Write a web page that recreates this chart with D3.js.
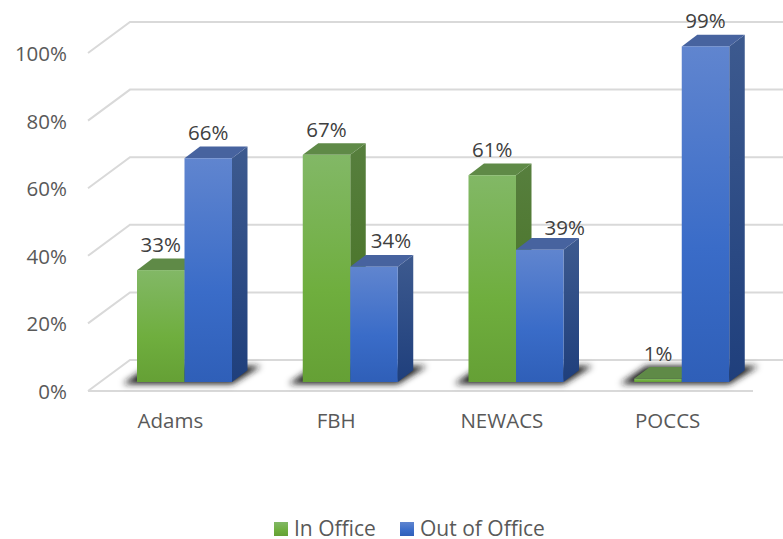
<!DOCTYPE html>
<html>
<head>
<meta charset="utf-8">
<script src="https://cdn.jsdelivr.net/npm/d3@7"></script>
<style>
  html, body { margin: 0; background: #fff; }
  svg { display: block; }
  text { font-family: "Open Sans", sans-serif; }
</style>
</head>
<body>
<svg width="783" height="539"></svg>
<script>
const categories = ['Adams', 'FBH', 'NEWACS', 'POCCS'];
const seriesNames = ['In Office', 'Out of Office'];
const inOffice = [33, 67, 61, 1];
const outOfOffice = [66, 34, 39, 99];
const tickValues = [0, 20, 40, 60, 80, 100];

const colors = {
  'In Office': { stops: ['#82b866', '#6fae3e', '#65a035'], side: ['#577f3e', '#44701f'], top: '#5f8a47' },
  'Out of Office': { stops: ['#6085cf', '#3a6cc8', '#2f5fb8'], side: ['#3d5a8f', '#1f3f7c'], top: '#47639f' }
};

// blue labels that had to move clear of the green bar beside them
const labelNudge = { FBH: { dx: 17, dy: 19 }, NEWACS: { dx: 25, dy: 15 } };

const svg = d3.select('svg');
const defs = svg.append('defs');

// pseudo 3d: floor runs from the front edge to the back wall, bars sit part way in
const floorDepth = { x: 42, y: -31 };
const barDepth = { x: 15.5, y: -11.7 };

const x = d3.scaleBand().domain(categories).range([88, 751]);
const bars = d3.scaleBand().domain(seriesNames).range([0, 95]);
const y = d3.scaleLinear().domain([0, 100]).range([382, 43]); // bar front plane
const yFront = d3.scaleLinear().domain([0, 100]).range([391, 53]); // front edge of the left wall
const yBack = d3.scaleLinear().domain([0, 100]).range([360, 22]);

const barX = (cat, name) => x(cat) + 49 + bars(name);
const poly = pts => pts.map(p => p.join(',')).join(' ');

seriesNames.forEach((name, i) => {
  const c = colors[name];
  const front = defs.append('linearGradient').attr('id', `front${i}`).attr('x1', 0).attr('x2', 0).attr('y1', 0).attr('y2', 1);
  [0, 0.6, 1].forEach((o, j) => front.append('stop').attr('offset', o).attr('stop-color', c.stops[j]));
  const side = defs.append('linearGradient').attr('id', `side${i}`).attr('x1', 0).attr('x2', 0).attr('y1', 0).attr('y2', 1);
  [0, 1].forEach((o, j) => side.append('stop').attr('offset', o).attr('stop-color', c.side[j]));
});

defs.append('filter').attr('id', 'blur').attr('x', '-20%').attr('width', '140%').attr('y', '-50%').attr('height', '200%')
  .append('feGaussianBlur').attr('stdDeviation', 3.4);

// walls and floor
const grid = svg.append('g').attr('fill', 'none').attr('stroke', '#d9d9d9').attr('stroke-width', 2);
tickValues.forEach((t) => {
  grid.append('polyline')
    .attr('points', poly([[88, yFront(t)], [88 + floorDepth.x, yBack(t)], [783, yBack(t)]]));
});
grid.append('line').attr('x1', 88).attr('x2', 753).attr('y1', yFront(0)).attr('y2', yFront(0));

// shadows on the floor
svg.append('g').selectAll('polygon').data(categories).join('polygon')
  .attr('points', (d) => {
    const l = x(d) + 49;
    return poly([[l - 14, 384], [l + 95, 384], [l + 124, 366], [l + 12, 366]]);
  })
  .attr('fill', '#1c1c1c')
  .attr('filter', 'url(#blur)');

// bars, left series first so the right one covers its side face
categories.forEach((cat, ci) => {
  [inOffice, outOfOffice].forEach((values, si) => {
    const name = seriesNames[si];
    const v = values[ci];
    const l = barX(cat, name);
    const r = l + bars.bandwidth();
    const t = y(v);
    const b = y(0);
    const g = svg.append('g');
    g.append('polygon')
      .attr('points', poly([[r, t], [r + barDepth.x, t + barDepth.y], [r + barDepth.x, b + barDepth.y], [r, b]]))
      .attr('fill', `url(#side${si})`);
    g.append('polygon')
      .attr('points', poly([[l, t], [l + barDepth.x, t + barDepth.y], [r + barDepth.x, t + barDepth.y], [r, t]]))
      .attr('fill', colors[name].top);
    g.append('rect')
      .attr('x', l).attr('y', t).attr('width', r - l).attr('height', b - t)
      .attr('fill', `url(#front${si})`);
  });
});

// data labels go on top of everything
categories.forEach((cat, ci) => {
  [inOffice, outOfOffice].forEach((values, si) => {
    const name = seriesNames[si];
    const nudge = (si === 1 && labelNudge[cat]) || { dx: 0, dy: 18 };
    svg.append('text')
      .attr('x', barX(cat, name) + bars.bandwidth() / 2 + nudge.dx)
      .attr('y', y(values[ci]) - nudge.dy)
      .attr('text-anchor', 'middle')
      .attr('font-size', 20.5)
      .attr('fill', '#404040')
      .text(`${values[ci]}%`);
  });
});

// axes
const yAxis = svg.append('g').attr('transform', 'translate(70,1)')
  .call(d3.axisLeft(yFront).tickValues(tickValues).tickSize(0).tickFormat(d => `${d}%`));
yAxis.select('.domain').remove();
yAxis.selectAll('text').attr('font-size', 20.5).attr('fill', '#595959').attr('font-family', null);

const xAxis = svg.append('g').attr('transform', 'translate(-0.5,410)')
  .call(d3.axisBottom(x).tickSize(0));
xAxis.select('.domain').remove();
xAxis.selectAll('text').attr('font-size', 20.5).attr('fill', '#595959').attr('font-family', null);

// legend
const legendX = [274, 400];
seriesNames.forEach((name, i) => {
  svg.append('rect')
    .attr('x', legendX[i]).attr('y', 522).attr('width', 14).attr('height', 14)
    .attr('fill', `url(#front${i})`);
  svg.append('text')
    .attr('x', legendX[i] + 20).attr('y', 536)
    .attr('font-size', 21)
    .attr('fill', '#595959')
    .text(name);
});
</script>
</body>
</html>
